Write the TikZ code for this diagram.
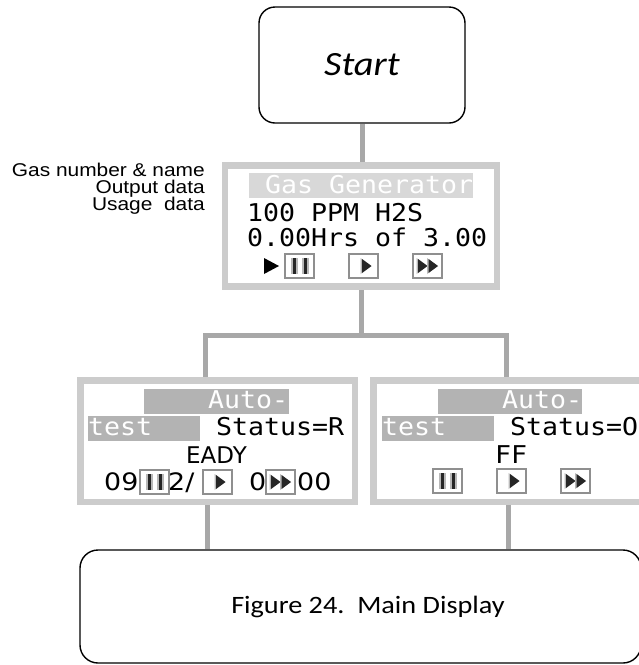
\documentclass[tikz,border=0pt]{standalone}
\usepackage{fontspec}
\newfontfamily\monof[FakeStretch=1.085]{DejaVu Sans Mono}
\newfontfamily\propn{DejaVu Sans}
\newfontfamily\propw[FakeStretch=1.12]{DejaVu Sans}
\newfontfamily\arialf[FakeStretch=1.13]{Liberation Sans}
\newfontfamily\calf[FakeStretch=1.13]{Carlito}
\definecolor{framegrey}{HTML}{CCCCCC}
\definecolor{linkgrey}{HTML}{A8A8A8}
\definecolor{hlight}{HTML}{D8D8D8}
\definecolor{hdark}{HTML}{B3B3B3}
\definecolor{iconedge}{HTML}{8F8F8F}
\definecolor{icondark}{HTML}{262626}
\definecolor{iconmid}{HTML}{B8B8B8}
\pgfdeclarelayer{bg}
\pgfsetlayers{bg,main}
\newcommand\icobox[2]{\filldraw[fill=white,draw=iconedge,line width=1.2pt] (#1,#2) rectangle ++(29,24);}
\newcommand\pauseico[2]{\icobox{#1}{#2}%
  \fill[iconmid] (#1+6,#2+4) rectangle ++(6.5,16);
  \fill[iconmid] (#1+17,#2+4) rectangle ++(6.5,16);
  \fill[icondark] (#1+7.5,#2+4) rectangle ++(3.5,16);
  \fill[icondark] (#1+18.5,#2+4) rectangle ++(3.5,16);}
\newcommand\triico[3]{%
  \fill[iconmid] (#1-1.5,#2) -- ++(11,8) -- ++(-11,8) -- cycle;
  \fill[icondark] (#1,#2+1) -- ++(9.5,7) -- ++(-9.5,7) -- cycle;}
\newcommand\playico[2]{\icobox{#1}{#2}\triico{#1+13}{#2+4}{}}
\newcommand\ffico[2]{\icobox{#1}{#2}\triico{#1+5}{#2+4}{}\triico{#1+15.5}{#2+4}{}}
\tikzset{
  startbox/.style={draw,line width=1.4pt,rounded corners=16pt,inner sep=0pt},
  framebox/.style={draw=framegrey,line width=6.5pt,inner sep=0pt,
    minimum height=121.5pt},
  link/.style={draw=linkgrey,line width=5pt},
  mono/.style={inner sep=0pt,anchor=base west,font=\monof\fontsize{24.5}{28}\selectfont},
  prop/.style={inner sep=0pt,anchor=base west,font=\propw\fontsize{24}{28}\selectfont},
  note/.style={inner sep=0pt,anchor=base east,font=\arialf\fontsize{18.5}{21}\selectfont},
}
\begin{document}
\begin{tikzpicture}[x=1pt,y=-1pt]
\useasboundingbox (0,0) rectangle (639,665);
\clip (0,0) rectangle (639,665);
% boxes
\node[startbox,minimum width=206pt,minimum height=116pt,
  font=\calf\itshape\fontsize{34}{40}\selectfont] (start) at (362,65) {Start};
\node[framebox,minimum width=272pt,minimum height=121pt] (gas) at (361,226) {};
\node[framebox,minimum width=274.5pt] (autoL) at (217.5,441) {};
\node[framebox,minimum width=273.5pt] (autoR) at (510,441) {};
\node[startbox,rounded corners=18pt,minimum width=561pt,minimum height=113pt] (main) at (360.5,606.5) {};
\node[inner sep=0pt,anchor=base,font=\calf\fontsize{25}{28}\selectfont] (cap) at (368,613) {Figure 24.\ \ Main Display};
% connectors
\coordinate (jl) at (205,335);
\coordinate (jr) at (506,335);
\coordinate (dl) at (207,530);
\coordinate (dr) at (508,530);
\begin{pgfonlayer}{bg}
\draw[link] (start.south) -- (start.south |- gas.north);
\draw[link] (gas.south) -- (gas.south |- jl);
\draw[link,line join=miter] (autoL.north -| jl) |- (jr) -- (autoR.north -| jr);
\draw[link] (autoL.south -| dl) -- (main.north -| dl);
\draw[link] (autoR.south -| dr) -- (main.north -| dr);
\end{pgfonlayer}
% annotations
\node[note] (n1) at (205,176) {Gas number \& name};
\node[note] (n2) at (205,193) {Output data};
\node[note] (n3) at (205,210) {Usage\ \ data};
% gas generator display
\fill[hlight] (249,173) rectangle (473,198);
\node[mono,text=white] (g1) at (265,193) {Gas Generator};
\node[mono] (g2) at (247,221) {100 PPM H2S};
\node[mono] (g3) at (247,246) {0.00Hrs of 3.00};
\fill[black] (264,258) -- (279,266) -- (264,274) -- cycle;
\pauseico{285}{254}
\playico{349}{254}
\ffico{413}{254}
% left auto-test display
\fill[hdark] (144,389) rectangle (289,414);
\fill[hdark] (88,416) rectangle (200,441);
\node[mono,text=white] (l1) at (208,408) {Auto-};
\node[mono,text=white] (l2) at (88,435) {test};
\node[mono] (l3) at (216,435) {Status=R};
\node[inner sep=0pt,anchor=base west,font=\propn\fontsize{23}{28}\selectfont] (l4) at (186,463) {EADY};
\node[prop] (l5) at (104,490) {09};
\node[prop] (l6) at (168,490) {2/};
\node[prop] (l7) at (249,490) {0};
\node[prop] (l8) at (297,490) {00};
\pauseico{140}{470}
\playico{203}{470}
\ffico{266}{470}
% right auto-test display
\fill[hdark] (438,389) rectangle (582,414);
\fill[hdark] (382,416) rectangle (494,441);
\node[mono,text=white] (r1) at (502,408) {Auto-};
\node[mono,text=white] (r2) at (382,435) {test};
\node[mono] (r3) at (510,435) {Status=O};
\node[mono] (r4) at (495,463) {FF};
\pauseico{433}{469}
\playico{497}{469}
\ffico{561}{469}
\end{tikzpicture}
\end{document}
